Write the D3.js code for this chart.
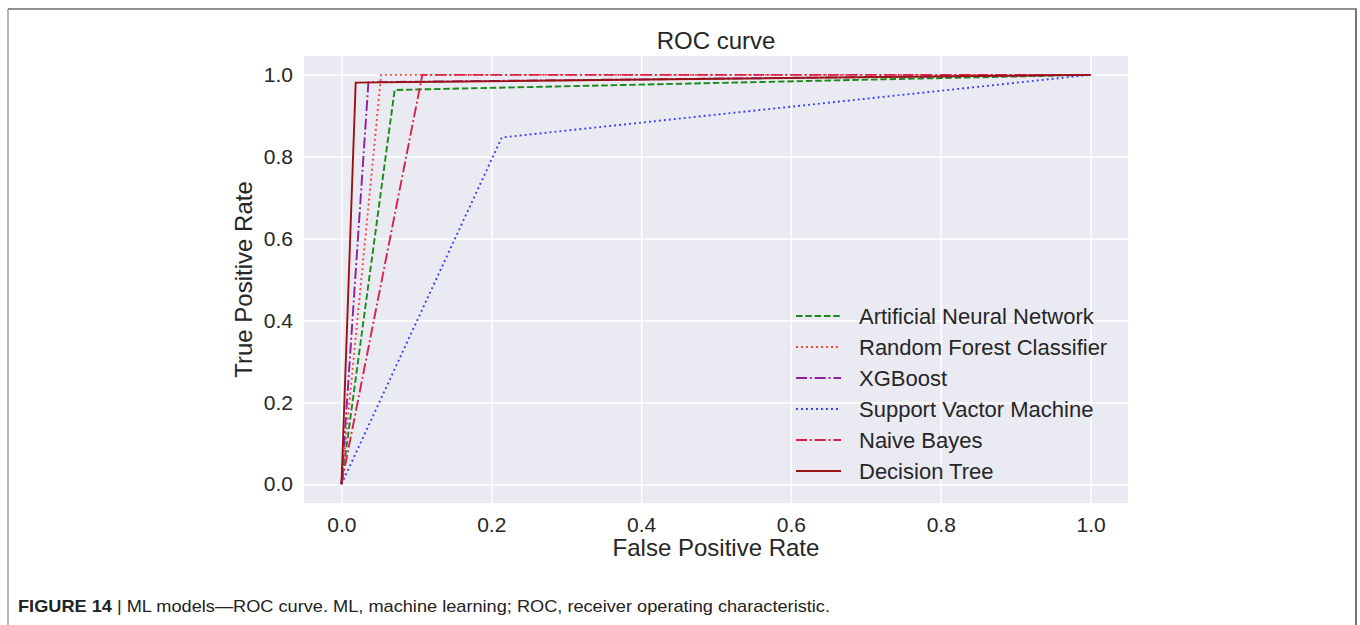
<!DOCTYPE html>
<html>
<head>
<meta charset="utf-8">
<script src="https://cdn.jsdelivr.net/npm/d3@7"></script>
<style>
  body { margin: 0; background: #fff; }
  svg text { font-family: 'Liberation Sans', Arial, sans-serif; }
</style>
</head>
<body>
<div id="chart"></div>
<script>
// ROC data: each model is (0,0) -> (fpr, tpr) -> (1,1)
var models = ['Artificial Neural Network', 'Random Forest Classifier', 'XGBoost',
  'Support Vactor Machine', 'Naive Bayes', 'Decision Tree']
var fprValues = [
  [0, 0.071, 1],
  [0, 0.053, 1],
  [0, 0.036, 1],
  [0, 0.214, 1],
  [0, 0.108, 1],
  [0, 0.019, 1]
]
var tprValues = [
  [0, 0.963, 1],
  [0, 1.0, 1],
  [0, 0.982, 1],
  [0, 0.847, 1],
  [0, 1.0, 1],
  [0, 0.981, 1]
]
var tickValues = [0, 0.2, 0.4, 0.6, 0.8, 1.0]

var colors = ['#1a8a1a', '#ff3b3b', '#8e1f9e', '#3b3bff', '#dc1f4a', '#9b1212']
var dashes = ['6.5,2.8', '1.9,3.1', '11,2.9,1.9,2.9', '1.9,3.1', '11,2.9,1.9,2.9', null]

var W = 1360, H = 625
var svg = d3.select('#chart').append('svg').attr('width', W).attr('height', H)

// outer figure frame
svg.append('line').attr('x1', 8).attr('x2', 1357).attr('y1', 9).attr('y2', 9)
  .attr('stroke', '#222').attr('stroke-width', 1.2)
svg.append('line').attr('x1', 8).attr('x2', 8).attr('y1', 9).attr('y2', H)
  .attr('stroke', '#888').attr('stroke-width', 1.2)
svg.append('line').attr('x1', 1356).attr('x2', 1356).attr('y1', 9).attr('y2', H)
  .attr('stroke', '#777').attr('stroke-width', 2)

var plot = { left: 304, right: 1128, top: 56, bottom: 503 }

var x = d3.scaleLinear().domain([-0.05, 1.05]).range([plot.left, plot.right])
var y = d3.scaleLinear().domain([-0.046, 1.046]).range([plot.bottom, plot.top])

svg.append('rect')
  .attr('x', plot.left).attr('y', plot.top)
  .attr('width', plot.right - plot.left).attr('height', plot.bottom - plot.top)
  .attr('fill', '#eaeaf2')

// grid via axes
var xAxis = d3.axisBottom(x).tickValues(tickValues).tickFormat(d3.format('.1f'))
  .tickSize(-(plot.bottom - plot.top)).tickPadding(14)
var yAxis = d3.axisLeft(y).tickValues(tickValues).tickFormat(d3.format('.1f'))
  .tickSize(-(plot.right - plot.left)).tickPadding(11)

var gx = svg.append('g').attr('transform', 'translate(0,' + plot.bottom + ')').call(xAxis)
var gy = svg.append('g').attr('transform', 'translate(' + plot.left + ',0)').call(yAxis)
;[gx, gy].forEach(g => {
  g.select('.domain').remove()
  g.selectAll('.tick line').attr('stroke', '#fff').attr('stroke-width', 1.5)
  g.selectAll('.tick text').attr('fill', '#262626').style('font-size', '21px')
})

// curves
var line = d3.line().x(d => x(d[0])).y(d => y(d[1]))
models.forEach((m, i) => {
  var pts = fprValues[i].map((f, j) => [f, tprValues[i][j]])
  svg.append('path')
    .attr('d', line(pts))
    .attr('fill', 'none')
    .attr('stroke', colors[i])
    .attr('stroke-width', 1.9)
    .attr('stroke-dasharray', dashes[i])
})

// legend
var legend = svg.selectAll('.legend').data(models).enter().append('g')
  .attr('class', 'legend')
  .attr('transform', (d, i) => 'translate(796,' + (316 + i * 31) + ')')
legend.append('line')
  .attr('x1', 0).attr('x2', 45).attr('y1', 0).attr('y2', 0)
  .attr('stroke', (d, i) => colors[i])
  .attr('stroke-width', 1.9)
  .attr('stroke-dasharray', (d, i) => dashes[i])
legend.append('text')
  .attr('x', 63).attr('y', 0).attr('dy', '0.36em')
  .attr('fill', '#262626').style('font-size', '22px')
  .text(d => d)

// titles
svg.append('text').text('ROC curve')
  .attr('x', (plot.left + plot.right) / 2).attr('y', 49)
  .attr('text-anchor', 'middle').attr('fill', '#262626').style('font-size', '24px')
svg.append('text').text('False Positive Rate')
  .attr('x', (plot.left + plot.right) / 2).attr('y', 556)
  .attr('text-anchor', 'middle').attr('fill', '#262626').style('font-size', '24px')
svg.append('text').text('True Positive Rate')
  .attr('transform', 'translate(252,' + (plot.top + plot.bottom) / 2 + ') rotate(-90)')
  .attr('text-anchor', 'middle').attr('fill', '#262626').style('font-size', '24px')

// caption
var cap = svg.append('text').attr('x', 18).attr('y', 612)
  .attr('fill', '#222').style('font-size', '17px')
  .attr('textLength', 812).attr('lengthAdjust', 'spacingAndGlyphs')
cap.append('tspan').attr('font-weight', 'bold').text('FIGURE 14')
cap.append('tspan').text(' | ML models\u2014ROC curve. ML, machine learning; ROC, receiver operating characteristic.')
</script>
</body>
</html>
